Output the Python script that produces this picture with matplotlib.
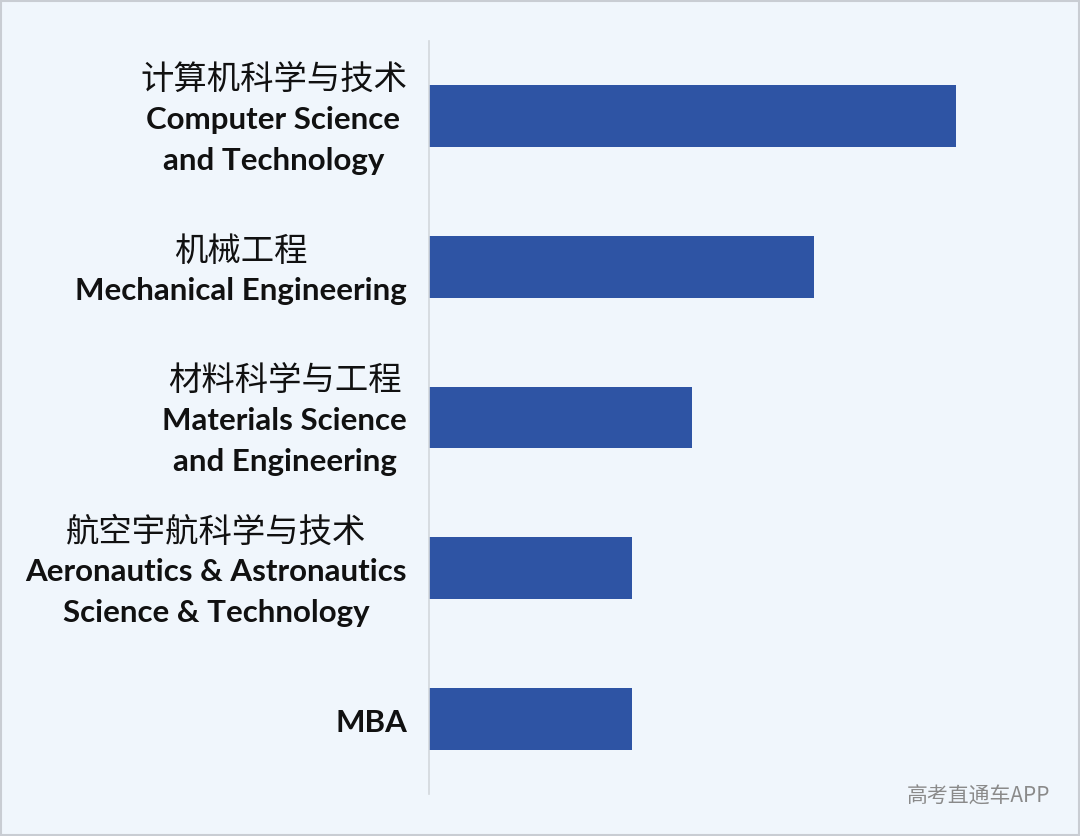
import matplotlib
matplotlib.use("Agg")
import matplotlib.pyplot as plt
from matplotlib.patches import Rectangle

# data, top to bottom
majors_cn = ["计算机科学与技术", "机械工程", "材料科学与工程", "航空宇航科学与技术", ""]
majors_en = [
    ["Computer Science", "and Technology"],
    ["Mechanical Engineering"],
    ["Materials Science", "and Engineering"],
    ["Aeronautics & Astronautics", "Science & Technology"],
    ["MBA"],
]
values = [26, 19, 13, 10, 10]

BG = "#f0f6fc"
BAR = "#2e54a4"
W, H = 1080, 837

fig = plt.figure(figsize=(W / 100, H / 100), dpi=100, facecolor=BG)
ax = fig.add_axes([429 / W, 1 - 795 / H, 567.5 / W, 753 / H])
ax.set_facecolor(BG)

pos = list(range(len(values)))
ax.barh(pos, values, height=0.41, color=BAR)
ax.set_xlim(0, 28)
ax.set_ylim(4.5, -0.5)
ax.set_xticks([])
ax.set_yticks([])
for s in ["top", "right", "bottom"]:
    ax.spines[s].set_visible(False)
ax.spines["left"].set_color("#d3d7dc")
ax.spines["left"].set_linewidth(1.2)

# frame around the picture
fig.patches.append(Rectangle((0.001, 0.001), 0.998, 0.997, transform=fig.transFigure,
                             fill=False, edgecolor="#c9cdd3", linewidth=1.5))

fig.canvas.draw()
renderer = fig.canvas.get_renderer()
right_px = 407
line_gap = 41

for i, (cn, en) in enumerate(zip(majors_cn, majors_en)):
    yc = ax.transData.transform((0, i))[1] - 3
    lines = ([(cn, "cn")] if cn else []) + [(t, "en") for t in en]
    n = len(lines)
    texts = []
    for k, (t, kind) in enumerate(lines):
        y = yc + ((n - 1) / 2 - k) * line_gap
        if kind == "cn":
            txt = fig.text(0, (y - 1) / H, t, fontsize=24, family=["Noto Sans CJK SC", "DejaVu Sans"],
                           fontweight="light", color="#111111", ha="center", va="center")
        else:
            txt = fig.text(0, y / H, t, fontsize=22.5, family="Lato", fontweight="bold",
                           color="#111111", ha="center", va="center")
        texts.append(txt)
    widths = [t.get_window_extent(renderer).width for t in texts]
    cx = right_px - max(widths) / 2
    for t in texts:
        t.set_x(cx / W)

fig.text(1050 / W, 1 - 797 / H, "高考直通车APP", fontsize=15,
         family=["Noto Sans CJK SC", "DejaVu Sans"], color="#8a8a8a", ha="right", va="center")

fig.savefig("out.png", dpi=100, facecolor=BG)
